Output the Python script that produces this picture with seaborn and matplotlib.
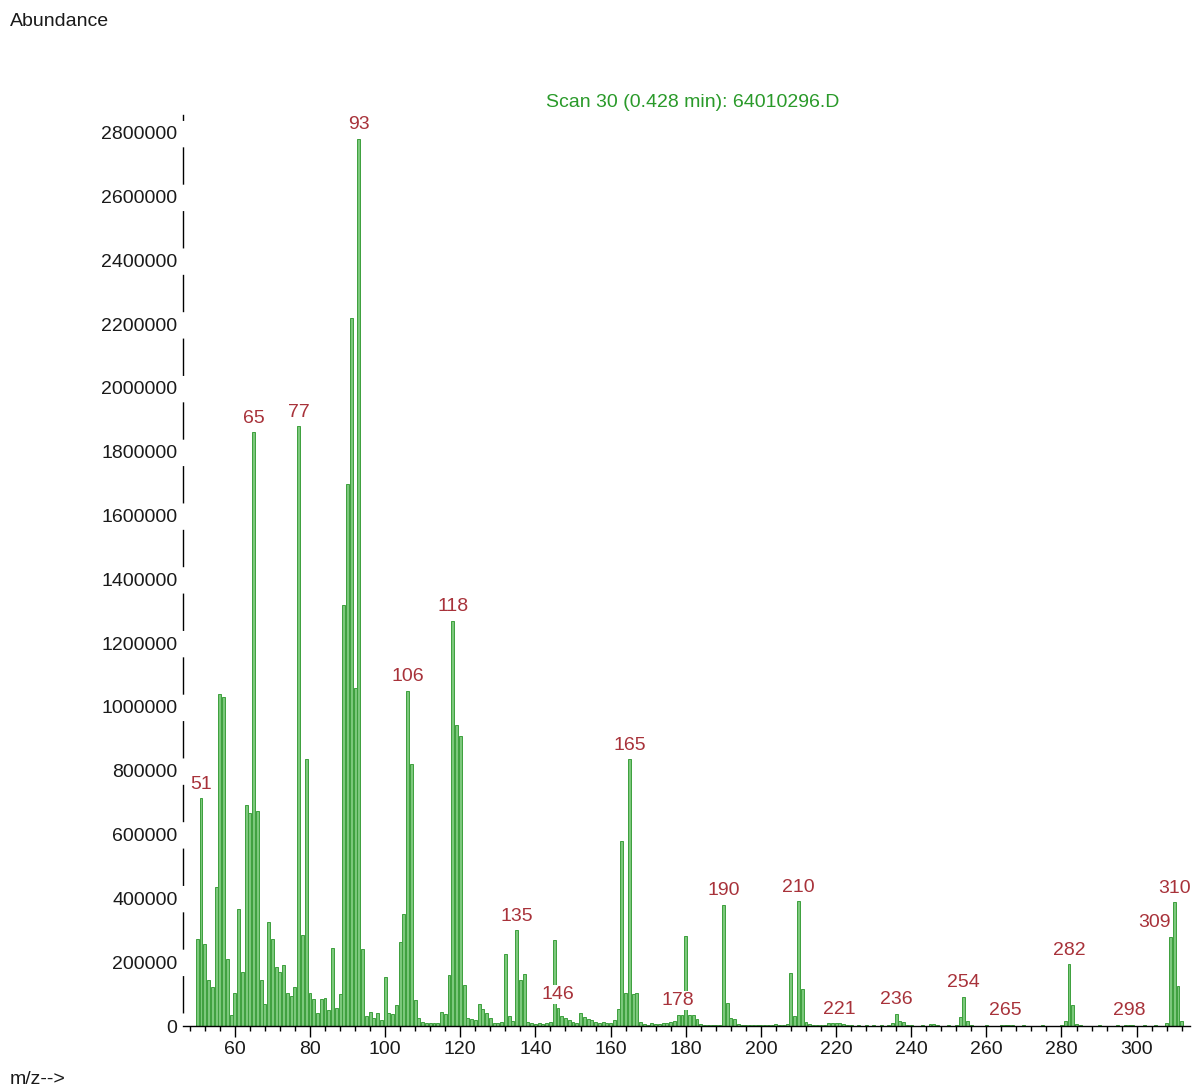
import numpy as np
import pandas as pd
import matplotlib; matplotlib.use("Agg")
import matplotlib.pyplot as plt
from matplotlib.ticker import FixedLocator, MultipleLocator
import seaborn as sns

MZ = [
    50, 51, 52, 53, 54, 55, 56, 57, 58, 59,
    60, 61, 62, 63, 64, 65, 66, 67, 68, 69,
    70, 71, 72, 73, 74, 75, 76, 77, 78, 79,
    80, 81, 82, 83, 84, 85, 86, 87, 88, 89,
    90, 91, 92, 93, 94, 95, 96, 97, 98, 99,
    100, 101, 102, 103, 104, 105, 106, 107, 108, 109,
    110, 111, 112, 113, 114, 115, 116, 117, 118, 119,
    120, 121, 122, 123, 124, 125, 126, 127, 128, 129,
    130, 131, 132, 133, 134, 135, 136, 137, 138, 139,
    140, 141, 142, 143, 144, 145, 146, 147, 148, 149,
    150, 151, 152, 153, 154, 155, 156, 157, 158, 159,
    160, 161, 162, 163, 164, 165, 166, 167, 168, 169,
    170, 171, 172, 173, 174, 175, 176, 177, 178, 179,
    180, 181, 182, 183, 184, 185, 186, 187, 188, 189,
    190, 191, 192, 193, 194, 195, 196, 197, 198, 199,
    200, 201, 202, 203, 204, 205, 206, 207, 208, 209,
    210, 211, 212, 213, 214, 215, 216, 217, 218, 219,
    220, 221, 222, 223, 224, 226, 228, 230, 232, 234,
    235, 236, 237, 238, 239, 240, 243, 245, 246, 247,
    250, 252, 253, 254, 255, 256, 260, 264, 265, 266,
    267, 270, 275, 280, 281, 282, 283, 284, 285, 290,
    295, 297, 298, 299, 302, 305, 308, 309, 310, 311,
    312,
]
ABUNDANCE = [
    272000, 714000, 258000, 143000, 122000, 435000, 1040000, 1030000, 211000, 34000,
    102000, 367000, 170000, 694000, 666000, 1860000, 673000, 143000, 68000, 326000,
    272000, 184000, 170000, 190000, 102000, 95000, 122000, 1880000, 286000, 836000,
    102000, 84000, 41000, 84000, 87000, 50000, 245000, 55000, 100000, 1320000,
    1700000, 2220000, 1060000, 2780000, 240000, 30000, 45000, 26000, 42000, 18000,
    153000, 42000, 37000, 66000, 264000, 350000, 1050000, 820000, 80000, 26000,
    12000, 10000, 10000, 10000, 10000, 45000, 37000, 160000, 1270000, 942000,
    910000, 128000, 26000, 21000, 20000, 68000, 52000, 42000, 26000, 10000,
    8000, 12000, 226000, 31000, 16000, 300000, 143000, 162000, 14000, 8000,
    6000, 8000, 6000, 10000, 12000, 268000, 55000, 30000, 24000, 18000,
    12000, 10000, 40000, 28000, 22000, 18000, 12000, 10000, 14000, 10000,
    8000, 20000, 54000, 579000, 104000, 836000, 99000, 104000, 14000, 5000,
    4000, 8000, 5000, 6000, 10000, 8000, 12000, 15000, 36000, 34000,
    282000, 36000, 36000, 21000, 5000, 3000, 4000, 3000, 4000, 2000,
    380000, 73000, 26000, 21000, 7000, 3000, 4000, 3000, 3000, 4000,
    3000, 2000, 4000, 3000, 5000, 3000, 4000, 7000, 167000, 31000,
    391000, 117000, 14000, 5000, 3000, 2000, 3000, 4000, 8000, 8000,
    9000, 8000, 6000, 3000, 2000, 3000, 2000, 3000, 2000, 3000,
    8000, 39000, 16000, 14000, 4000, 2000, 3000, 7000, 5000, 3000,
    2000, 4000, 28000, 91000, 16000, 4000, 2000, 3000, 4000, 4000,
    3000, 2000, 2000, 3000, 16000, 193000, 65000, 7000, 3000, 2000,
    3000, 3000, 4000, 3000, 2000, 2000, 10000, 280000, 388000, 124000,
    15000,
]
PEAK_LABELS = [51, 65, 77, 93, 106, 118, 135, 146, 165, 178,
               190, 210, 221, 236, 254, 265, 282, 298, 309, 310]
Y_TICKS = list(range(0, 2800001, 200000))
X_TICKS = list(range(60, 301, 20))
TITLE = "Scan 30 (0.428 min): 64010296.D"

# ── ESTILO ────────────────────────────────────────────────────────────────────
BAR_FILL = "#7cc87c"; BAR_EDGE = "#3d9f3d"
GREEN_TXT = "#2a9a2a"; RED_TXT = "#a8323a"; INK = "#1a1a1a"

sns.set_style("white")
plt.rcParams["font.family"] = ["Liberation Sans", "DejaVu Sans"]
FS = 14

fig = plt.figure(figsize=(12.03, 10.9), dpi=100)
ax = fig.add_axes([0.1521, 0.0587, 0.8371, 0.8358])

df = pd.DataFrame({"mz": MZ, "abundance": ABUNDANCE})
sns.barplot(data=df, x="mz", y="abundance", native_scale=True,
            color=BAR_FILL, saturation=1, width=0.78, errorbar=None,
            edgecolor=BAR_EDGE, linewidth=0.7, ax=ax)

ax.set_xlim(46.2, 314.2)
ax.set_ylim(0, 2855000)

# eixo y "quebrado" estilo ChemStation (segmentos entre os rótulos)
for s in ["top", "right"]:
    ax.spines[s].set_visible(False)
ax.spines["left"].set_color("black"); ax.spines["left"].set_linewidth(1.0)
ax.spines["left"].set_linestyle((36.0, (25.9, 20.0)))
ax.spines["bottom"].set_color("black"); ax.spines["bottom"].set_linewidth(1.0)

ax.xaxis.set_major_locator(FixedLocator(X_TICKS))
ax.xaxis.set_minor_locator(MultipleLocator(4))
ax.set_xticklabels([str(v) for v in X_TICKS])
ax.set_yticks(Y_TICKS, labels=[str(v) for v in Y_TICKS])
ax.tick_params(axis="x", which="major", direction="out", length=8, width=1,
               color="black", labelsize=FS, labelcolor=INK, pad=3, bottom=True)
ax.tick_params(axis="x", which="minor", direction="out", length=3.6, width=1,
               color="black", bottom=True)
ax.tick_params(axis="y", length=0, labelsize=FS, labelcolor=INK, pad=4)
ax.set_xlabel(""); ax.set_ylabel("")
ax.grid(False)

# rótulos dos picos
lookup = dict(zip(MZ, ABUNDANCE))
for m in PEAK_LABELS:
    ha = "right" if m == 309 else "center"
    ax.annotate(str(m), xy=(m, lookup[m]), xytext=(0, 4),
                textcoords="offset points", ha=ha, va="bottom",
                color=RED_TXT, fontsize=FS,
                bbox=dict(boxstyle="square,pad=0.05", fc="white", ec="none"))

ax.set_title(TITLE, color=GREEN_TXT, fontsize=FS, pad=6, x=0.506)
fig.text(0.0083, 1 - 22 / 1090, "Abundance", va="center", fontsize=FS, color=INK)
fig.text(0.0083, 0.002, "m/z-->", va="bottom", fontsize=FS, color=INK)

plt.savefig("out.png", dpi=100)
plt.close()
